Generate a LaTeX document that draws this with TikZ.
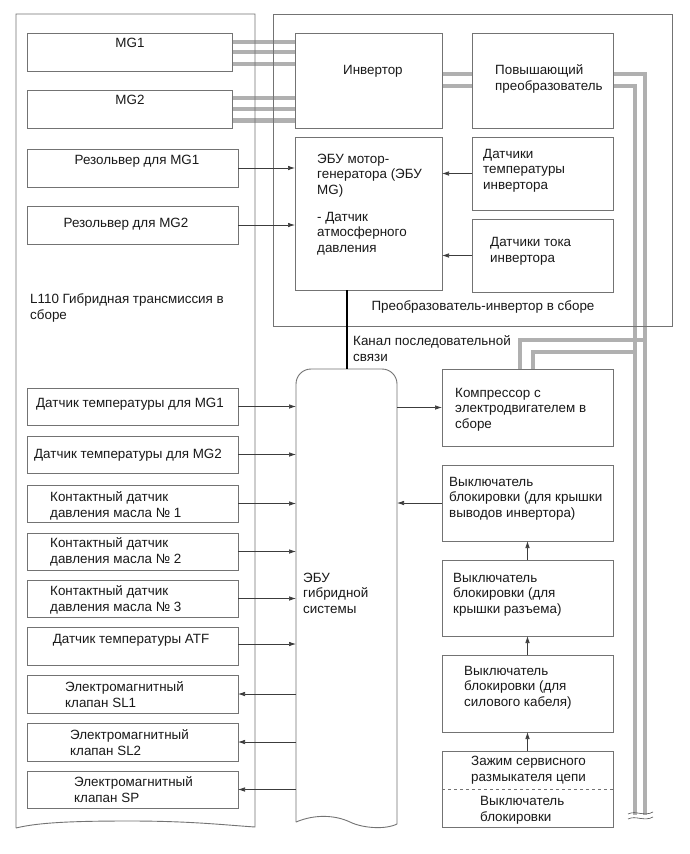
\documentclass[tikz,border=0pt]{standalone}
\usepackage{fontspec}
\setmainfont{Liberation Sans}
\usetikzlibrary{arrows.meta,calc}
\definecolor{boxc}{RGB}{115,115,115}
\definecolor{arrc}{RGB}{60,60,60}
\definecolor{pwc}{RGB}{176,176,176}
\definecolor{txtc}{RGB}{25,25,25}
\newcommand\fs{\fontsize{13.4}{15.5}\selectfont}
\tikzset{
 box/.style={draw=boxc, line width=0.9pt, inner sep=0pt, outer sep=0pt},
 txt/.style={inner sep=0pt, align=left, anchor=base west, font=\fs, text=txtc},
 ctxt/.style={inner sep=0pt, align=center, anchor=base, font=\fs, text=txtc},
 arr/.style={draw=arrc, line width=0.7pt, -{Latex[length=7pt,width=4.5pt]}},
 pw/.style={draw=pwc, line width=4.5pt},
 serial/.style={draw=black, line width=2.2pt},
}
\begin{document}
\begin{tikzpicture}[x=1pt,y=-1pt]
\useasboundingbox[fill=white] (0,0) rectangle (690,854);

% ---------- named boxes ----------
\node[box, minimum width=205pt, minimum height=38pt] (mg1) at (129.5,52) {};
\node[box, minimum width=205pt, minimum height=38pt] (mg2) at (129.5,109) {};
\node[box, minimum width=147pt, minimum height=95pt] (inv) at (368.5,80.5) {};
\node[box, minimum width=141pt, minimum height=95pt] (boost) at (542.5,80.5) {};
\node[box, minimum width=211pt, minimum height=38pt] (res1) at (132.5,168) {};
\node[box, minimum width=211pt, minimum height=38pt] (res2) at (132.5,225) {};
\node[box, minimum width=147pt, minimum height=153pt] (mgecu) at (368.5,213.5) {};
\node[box, minimum width=141pt, minimum height=73pt] (tsens) at (542.5,173.5) {};
\node[box, minimum width=141pt, minimum height=73pt] (csens) at (542.5,255.5) {};

\node[box, minimum width=211pt, minimum height=37pt] (t1) at (132.5,406.5) {};
\node[box, minimum width=211pt, minimum height=37pt] (t2) at (132.5,454.5) {};
\node[box, minimum width=211pt, minimum height=37pt] (o1) at (132.5,503.5) {};
\node[box, minimum width=211pt, minimum height=37pt] (o2) at (132.5,551.5) {};
\node[box, minimum width=211pt, minimum height=37pt] (o3) at (132.5,598.5) {};
\node[box, minimum width=211pt, minimum height=38pt] (atf) at (132.5,646) {};
\node[box, minimum width=211pt, minimum height=38pt] (sl1) at (132.5,694) {};
\node[box, minimum width=211pt, minimum height=38pt] (sl2) at (132.5,742) {};
\node[box, minimum width=211pt, minimum height=37pt] (sp) at (132.5,789.5) {};

\node[box, minimum width=171pt, minimum height=77pt] (comp) at (527.5,407.5) {};
\node[box, minimum width=171pt, minimum height=76pt] (il1) at (527.5,503) {};
\node[box, minimum width=171pt, minimum height=76pt] (il2) at (527.5,598) {};
\node[box, minimum width=171pt, minimum height=77pt] (il3) at (527.5,693.5) {};
\node[box, minimum width=171pt, minimum height=76pt] (svc) at (527.5,789) {};
\draw[boxc, dashed, line width=0.6pt] (svc.west) -- (svc.east);

% hybrid ECU (invisible anchor node + drawn outline)
\node[inner sep=0pt, outer sep=0pt, minimum width=101pt, minimum height=455pt] (ecu) at (346.5,596.5) {};

% ---------- power lines ----------
\foreach \s in {10,0,-12}{
  \draw[pw] ([yshift=\s pt]mg1.east) -- ([yshift=\s pt]mg1.east -| inv.west);
}
\foreach \s in {11,0,-11.5}{
  \draw[pw] ([yshift=\s pt]mg2.east) -- ([yshift=\s pt]mg2.east -| inv.west);
}
\foreach \s in {6.5,-5.5}{
  \draw[pw] ([yshift=\s pt]inv.east) -- ([yshift=\s pt]inv.east -| boost.west);
}
\coordinate (cutA) at (645,815);
\coordinate (cutB) at (635,815);
\draw[pw] ([yshift=6.5pt]boost.east) -| (cutA);
\draw[pw] ([yshift=-5.5pt]boost.east) -| (cutB);
\draw[pw] (645,340) -| ([xshift=-7.5pt]comp.north);
\draw[pw] (635,352) -| ([xshift=5.5pt]comp.north);
% break marks
\draw[black!70, line width=0.6pt] (628,814) .. controls (636,810) and (644,817) .. (653,812);
\draw[black!70, line width=0.6pt] (628,819) .. controls (636,815) and (644,822) .. (653,817);

% ---------- outer assemblies ----------
\node[box, minimum width=399pt, minimum height=312pt] (asm) at (472.5,170) {};
\draw[boxc, line width=0.9pt] (16,828) -- (16,14) -- (255,14) -- (255,827)
   .. controls (225,825) and (190,821) .. (130,821)
   .. controls (80,821) and (40,822) .. (16,828);
\draw[boxc, line width=0.9pt, rounded corners=15pt] (296,822) -- (296,369) -- (397,369) -- (397,824);
\draw[boxc, line width=0.9pt] (296,822) .. controls (315,814) and (335,815) .. (350,822)
   .. controls (362,828) and (385,830) .. (397,824);

% redraw inner box edges on top of power lines
\foreach \n in {mg1,mg2,inv,boost,comp}{ \draw[boxc, line width=0.9pt] (\n.north west) rectangle (\n.south east); }

% ---------- serial line ----------
\draw[serial] ([xshift=-21.5pt]mgecu.south) -- ([xshift=-21.5pt]mgecu.south |- ecu.north);

% ---------- signal arrows ----------
\draw[arr] (res1.east) -- (res1.east -| mgecu.west);
\draw[arr] (res2.east) -- (res2.east -| mgecu.west);
\draw[arr] (tsens.west) -- (tsens.west -| mgecu.east);
\draw[arr] (csens.west) -- (csens.west -| mgecu.east);
\foreach \n in {t1,t2,o1,o2,o3}{
  \draw[arr] (\n.east) -- (\n.east -| ecu.west);
}
\draw[arr] ([yshift=2pt]atf.east) -- ([yshift=2pt]atf.east -| ecu.west);
\foreach \n in {sl1,sl2,sp}{
  \draw[arr] (\n.east -| ecu.west) -- (\n.east);
}
\draw[arr] (comp.west -| ecu.east) -- (comp.west);
\draw[arr] (il1.west) -- (il1.west -| ecu.east);
\draw[arr] (il2.north) -- (il1.south);
\draw[arr] (il3.north) -- (il2.south);
\draw[arr] (svc.north) -- (il3.south);

% ---------- texts (base = baseline of last line) ----------
\node[ctxt] (mg1t) at (130,47) {MG1};
\node[ctxt] (mg2t) at (130,104) {MG2};
\node[txt] (invt) at (343,74) {Инвертор};
\node[txt] (boostt) at (495,90) {Повышающий\\преобразователь};
\node[ctxt] (res1t) at (137,164) {Резольвер для MG1};
\node[ctxt] (res2t) at (126,227) {Резольвер для MG2};
\node[txt] (l110t) at (30,319) {L110 Гибридная трансмиссия в\\сборе};
\node[txt] (mgecut) at (317,252) {ЭБУ мотор-\\генератора (ЭБУ\\MG)\\[11.5pt]- Датчик\\атмосферного\\давления};
\node[txt] (tsenst) at (483,189) {Датчики\\температуры\\инвертора};
\node[txt] (csenst) at (490,262) {Датчики тока\\инвертора};
\node[ctxt] (asmt) at (483,310) {Преобразователь-инвертор в сборе};
\node[txt] (sert) at (353,361) {Канал последовательной\\связи};
\node[ctxt] (t1t) at (130,407) {Датчик температуры для MG1};
\node[ctxt] (t2t) at (128,458) {Датчик температуры для MG2};
\node[txt] (o1t) at (50,517) {Контактный датчик\\давления масла № 1};
\node[txt] (o2t) at (50,563) {Контактный датчик\\давления масла № 2};
\node[txt] (o3t) at (50,611) {Контактный датчик\\давления масла № 3};
\node[ctxt] (atft) at (131,643) {Датчик температуры ATF};
\node[txt] (sl1t) at (65,707) {Электромагнитный\\клапан SL1};
\node[txt] (sl2t) at (70,755) {Электромагнитный\\клапан SL2};
\node[txt] (spt) at (74,802) {Электромагнитный\\клапан SP};
\node[txt] (ecut) at (303,613) {ЭБУ\\гибридной\\системы};
\node[txt] (compt) at (455,428) {Компрессор с\\электродвигателем в\\сборе};
\node[txt] (il1t) at (449,517) {Выключатель\\блокировки (для крышки\\выводов инвертора)};
\node[txt] (il2t) at (453,613) {Выключатель\\блокировки (для\\крышки разъема)};
\node[txt] (il3t) at (464,706) {Выключатель\\блокировки (для\\силового кабеля)};
\node[txt] (svct) at (471,781) {Зажим сервисного\\размыкателя цепи};
\node[txt] (svc2t) at (480,821) {Выключатель\\блокировки};
\end{tikzpicture}
\end{document}
